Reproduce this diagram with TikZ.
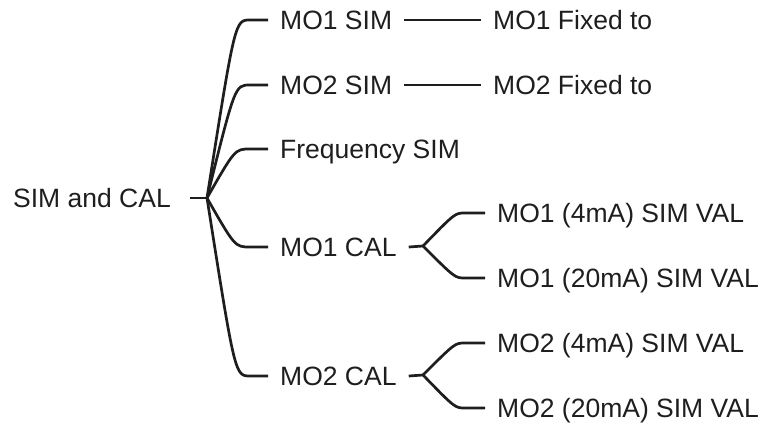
\documentclass[tikz,border=0pt]{standalone}
\usepackage{fontspec}
\setmainfont{Liberation Sans}
\usetikzlibrary{calc}
\definecolor{ink}{HTML}{1E1E1E}
\tikzset{
  lbl/.style={inner xsep=12pt, inner ysep=0pt, text height=19pt, text depth=0pt,
    font=\fontsize{26.5}{30}\selectfont, text=ink, anchor=west},
  link/.style={draw=ink, line width=2.7pt, line join=round}
}
\begin{document}
\begin{tikzpicture}[x=1pt,y=-1pt]
\useasboundingbox (0,0) rectangle (766,423);
% root and first level
\node[lbl, inner xsep=19pt] (root) at (-6,198) {SIM and CAL};
\coordinate (hub) at (207,198);
\node[lbl] (mo1sim) at (268,20) {MO1 SIM};
\node[lbl] (mo2sim) at (268,85) {MO2 SIM};
\node[lbl] (freq) at (268,149) {Frequency SIM};
\node[lbl] (mo1cal) at (268,247) {MO1 CAL};
\node[lbl] (mo2cal) at (268,376) {MO2 CAL};
% second level
\node[lbl] (mo1fix) at (481,20) {MO1 Fixed to};
\node[lbl] (mo2fix) at (481,85) {MO2 Fixed to};
\coordinate (hubA) at (423,246);
\coordinate (hubB) at (423,375);
\node[lbl] (mo1lo) at (485,213) {MO1 (4mA) SIM VAL};
\node[lbl] (mo1hi) at (485,278) {MO1 (20mA) SIM VAL};
\node[lbl] (mo2lo) at (485,343) {MO2 (4mA) SIM VAL};
\node[lbl] (mo2hi) at (485,408) {MO2 (20mA) SIM VAL};
% connectors
\draw[link] (root.east) -- (hub);
\foreach \c in {mo1sim,mo2sim,freq,mo1cal,mo2cal}
  \draw[link] (hub) .. controls ($(\c.west)+(-33,0)$) .. ($(\c.west)+(-18,0)$) -- (\c.west);
\draw[link] (mo1sim.east) -- (mo1fix.west);
\draw[link] (mo2sim.east) -- (mo2fix.west);
\draw[link] (mo1cal.east) -- (hubA);
\draw[link] (mo2cal.east) -- (hubB);
\foreach \c in {mo1lo,mo1hi}
  \draw[link] (hubA) .. controls ($(\c.west)+(-30,0)$) .. ($(\c.west)+(-20,0)$) -- (\c.west);
\foreach \c in {mo2lo,mo2hi}
  \draw[link] (hubB) .. controls ($(\c.west)+(-30,0)$) .. ($(\c.west)+(-20,0)$) -- (\c.west);
\end{tikzpicture}
\end{document}
